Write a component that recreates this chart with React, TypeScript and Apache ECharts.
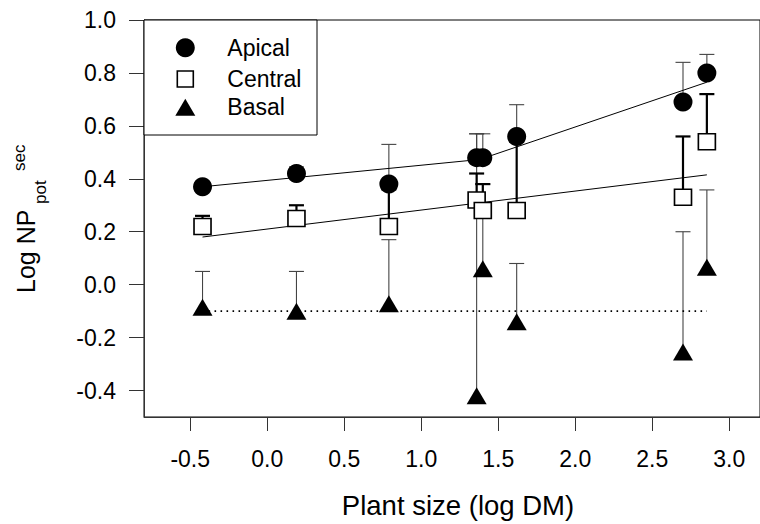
import React, { useEffect, useRef } from "react";
import * as echarts from "echarts";

// ---- data ----
const plantSize = [-0.42, 0.19, 0.79, 1.36, 1.4, 1.62, 2.7, 2.855];
const apical = [0.37, 0.42, 0.38, 0.48, 0.48, 0.56, 0.69, 0.8];
const apicalUpper = [0.39, 0.445, 0.53, 0.57, 0.57, 0.68, 0.84, 0.87];
const central = [0.22, 0.25, 0.22, 0.32, 0.28, 0.28, 0.33, 0.54];
const centralUpper = [0.26, 0.3, 0.36, 0.42, 0.38, 0.54, 0.56, 0.72];
const basal = [-0.085, -0.1, -0.072, -0.42, 0.06, -0.14, -0.254, 0.066];
const basalUpper = [0.05, 0.05, 0.17, 0.57, 0.38, 0.08, 0.2, 0.358];

const apicalFitX = [-0.42, 1.38, 2.855];
const apicalFitY = [0.37, 0.473, 0.765];
const centralFitX = [-0.42, 2.855];
const centralFitY = [0.18, 0.415];
const basalMeanX = [-0.42, 2.855];
const basalMeanY = [-0.1, -0.1];

const xTicks = [-0.5, 0, 0.5, 1, 1.5, 2, 2.5, 3];
const yTicks = [-0.4, -0.2, 0, 0.2, 0.4, 0.6, 0.8, 1.0];
const legendNames = ["Apical", "Central", "Basal"];

const FONT = "'Liberation Sans', Arial, Helvetica, sans-serif";

function errorSeries(name: string, vals: number[], upper: number[], color: string, width: number) {
  return {
    type: "custom",
    name: name + " SE",
    z: 1,
    data: plantSize.map((x, i) => [x, vals[i], upper[i]]),
    encode: { x: 0, y: [1, 2] },
    renderItem: (_p: any, api: any) => {
      const x = api.value(0);
      const y = api.value(1);
      const hi = api.value(2);
      const p0 = api.coord([x, y]);
      const p1 = api.coord([x, hi]);
      const w = 7.5;
      const style = { stroke: color, lineWidth: width };
      return {
        type: "group",
        children: [
          { type: "line", shape: { x1: p0[0], y1: p0[1], x2: p1[0], y2: p1[1] }, style },
          { type: "line", shape: { x1: p1[0] - w, y1: p1[1], x2: p1[0] + w, y2: p1[1] }, style },
        ],
      };
    },
    silent: true,
  };
}

function lineSeries(name: string, xs: number[], ys: number[], dotted: boolean) {
  return {
    type: "line",
    name,
    z: 2,
    data: xs.map((x, i) => [x, ys[i]]),
    symbol: "none",
    lineStyle: dotted
      ? { color: "#000", width: 1.6, type: [1.6, 4.4], opacity: 1 }
      : { color: "#000", width: 1, opacity: 1 },
    silent: true,
  };
}

export default function App() {
  const ref = useRef<HTMLDivElement>(null);
  useEffect(() => {
    document.body.style.margin = "0";
    if (!ref.current) return;
    const chart = echarts.init(ref.current, undefined, { renderer: "svg" });
    const legY = [47.7, 79, 107.3];
    const legX = 185.3;
    chart.setOption({
      animation: false,
      backgroundColor: "#fff",
      textStyle: { fontFamily: FONT },
      grid: {
        left: 144,
        top: 20,
        width: 622,
        height: 397,
        show: true,
        borderColor: "#000",
        borderWidth: 1,
        containLabel: false,
      },
      xAxis: {
        type: "value",
        min: -0.8,
        max: 3.2,
        splitLine: { show: false },
        axisLine: { onZero: false, lineStyle: { color: "#333", width: 1 } },
        axisTick: { show: true, length: 14, customValues: xTicks, lineStyle: { color: "#333" } },
        axisLabel: {
          customValues: xTicks,
          formatter: (v: number) => v.toFixed(1),
          fontSize: 23,
          color: "#000",
          fontFamily: FONT,
          margin: 30,
        },
      },
      yAxis: {
        type: "value",
        min: -0.5,
        max: 1.0,
        splitLine: { show: false },
        axisLine: { onZero: false, lineStyle: { color: "#333", width: 1 } },
        axisTick: { show: true, length: 15, customValues: yTicks, lineStyle: { color: "#333" } },
        axisLabel: {
          customValues: yTicks,
          formatter: (v: number) => v.toFixed(1),
          fontSize: 23,
          color: "#000",
          fontFamily: FONT,
          margin: 28,
        },
      },
      series: [
        errorSeries("Apical", apical, apicalUpper, "#444", 1.1),
        errorSeries("Basal", basal, basalUpper, "#444", 1.1),
        errorSeries("Central", central, centralUpper, "#000", 2.2),
        lineSeries("Apical fit", apicalFitX, apicalFitY, false),
        lineSeries("Central fit", centralFitX, centralFitY, false),
        lineSeries("Basal mean", basalMeanX, basalMeanY, true),
        {
          type: "scatter",
          name: "Basal",
          z: 3,
          symbol: "triangle",
          symbolSize: [20, 17],
          itemStyle: { color: "#000", opacity: 1 },
          data: plantSize.map((x, i) => [x, basal[i]]),
        },
        {
          type: "scatter",
          name: "Central",
          z: 4,
          symbol: "rect",
          symbolSize: [17, 16],
          itemStyle: { color: "#fff", borderColor: "#000", borderWidth: 1.6, opacity: 1 },
          data: plantSize.map((x, i) => [x, central[i]]),
        },
        {
          type: "scatter",
          name: "Apical",
          z: 5,
          symbol: "circle",
          symbolSize: 19,
          itemStyle: { color: "#000", opacity: 1 },
          data: plantSize.map((x, i) => [x, apical[i]]),
        },
      ],
      graphic: [
        {
          type: "rect",
          z: 100,
          shape: { x: 144, y: 20, width: 173, height: 115 },
          style: { fill: "#fff", stroke: "#000", lineWidth: 1 },
        },
        {
          type: "circle",
          z: 101,
          shape: { cx: legX, cy: legY[0], r: 9.5 },
          style: { fill: "#000" },
        },
        {
          type: "rect",
          z: 101,
          shape: { x: legX - 8, y: legY[1] - 8, width: 16, height: 16 },
          style: { fill: "#fff", stroke: "#000", lineWidth: 1.6 },
        },
        {
          type: "polygon",
          z: 101,
          shape: {
            points: [
              [legX - 10, legY[2] + 8.5],
              [legX + 10, legY[2] + 8.5],
              [legX, legY[2] - 8.5],
            ],
          },
          style: { fill: "#000" },
        },
        ...legendNames.map((n, i) => ({
          type: "text",
          z: 101,
          x: 227.3,
          y: legY[i],
          style: {
            text: n,
            fontSize: 23,
            fontFamily: FONT,
            fill: "#000",
            textAlign: "left",
            textVerticalAlign: "middle",
          },
        })),
        {
          type: "text",
          x: 458,
          y: 505,
          style: {
            text: "Plant size (log DM)",
            fontSize: 27.5,
            fontFamily: FONT,
            fill: "#000",
            textAlign: "center",
            textVerticalAlign: "middle",
          },
        },
        {
          type: "text",
          x: 26,
          y: 293,
          rotation: Math.PI / 2,
          style: {
            text: "Log NP",
            fontSize: 25,
            fontFamily: FONT,
            fill: "#000",
            textAlign: "left",
            textVerticalAlign: "middle",
          },
        },
        {
          type: "text",
          x: 40,
          y: 204,
          rotation: Math.PI / 2,
          style: {
            text: "pot",
            fontSize: 17,
            fontFamily: FONT,
            fill: "#000",
            textAlign: "left",
            textVerticalAlign: "middle",
          },
        },
        {
          type: "text",
          x: 19,
          y: 171,
          rotation: Math.PI / 2,
          style: {
            text: "sec",
            fontSize: 17,
            fontFamily: FONT,
            fill: "#000",
            textAlign: "left",
            textVerticalAlign: "middle",
          },
        },
      ],
    });
    return () => chart.dispose();
  }, []);
  return <div ref={ref} style={{ width: 760, height: 524 }} />;
}
